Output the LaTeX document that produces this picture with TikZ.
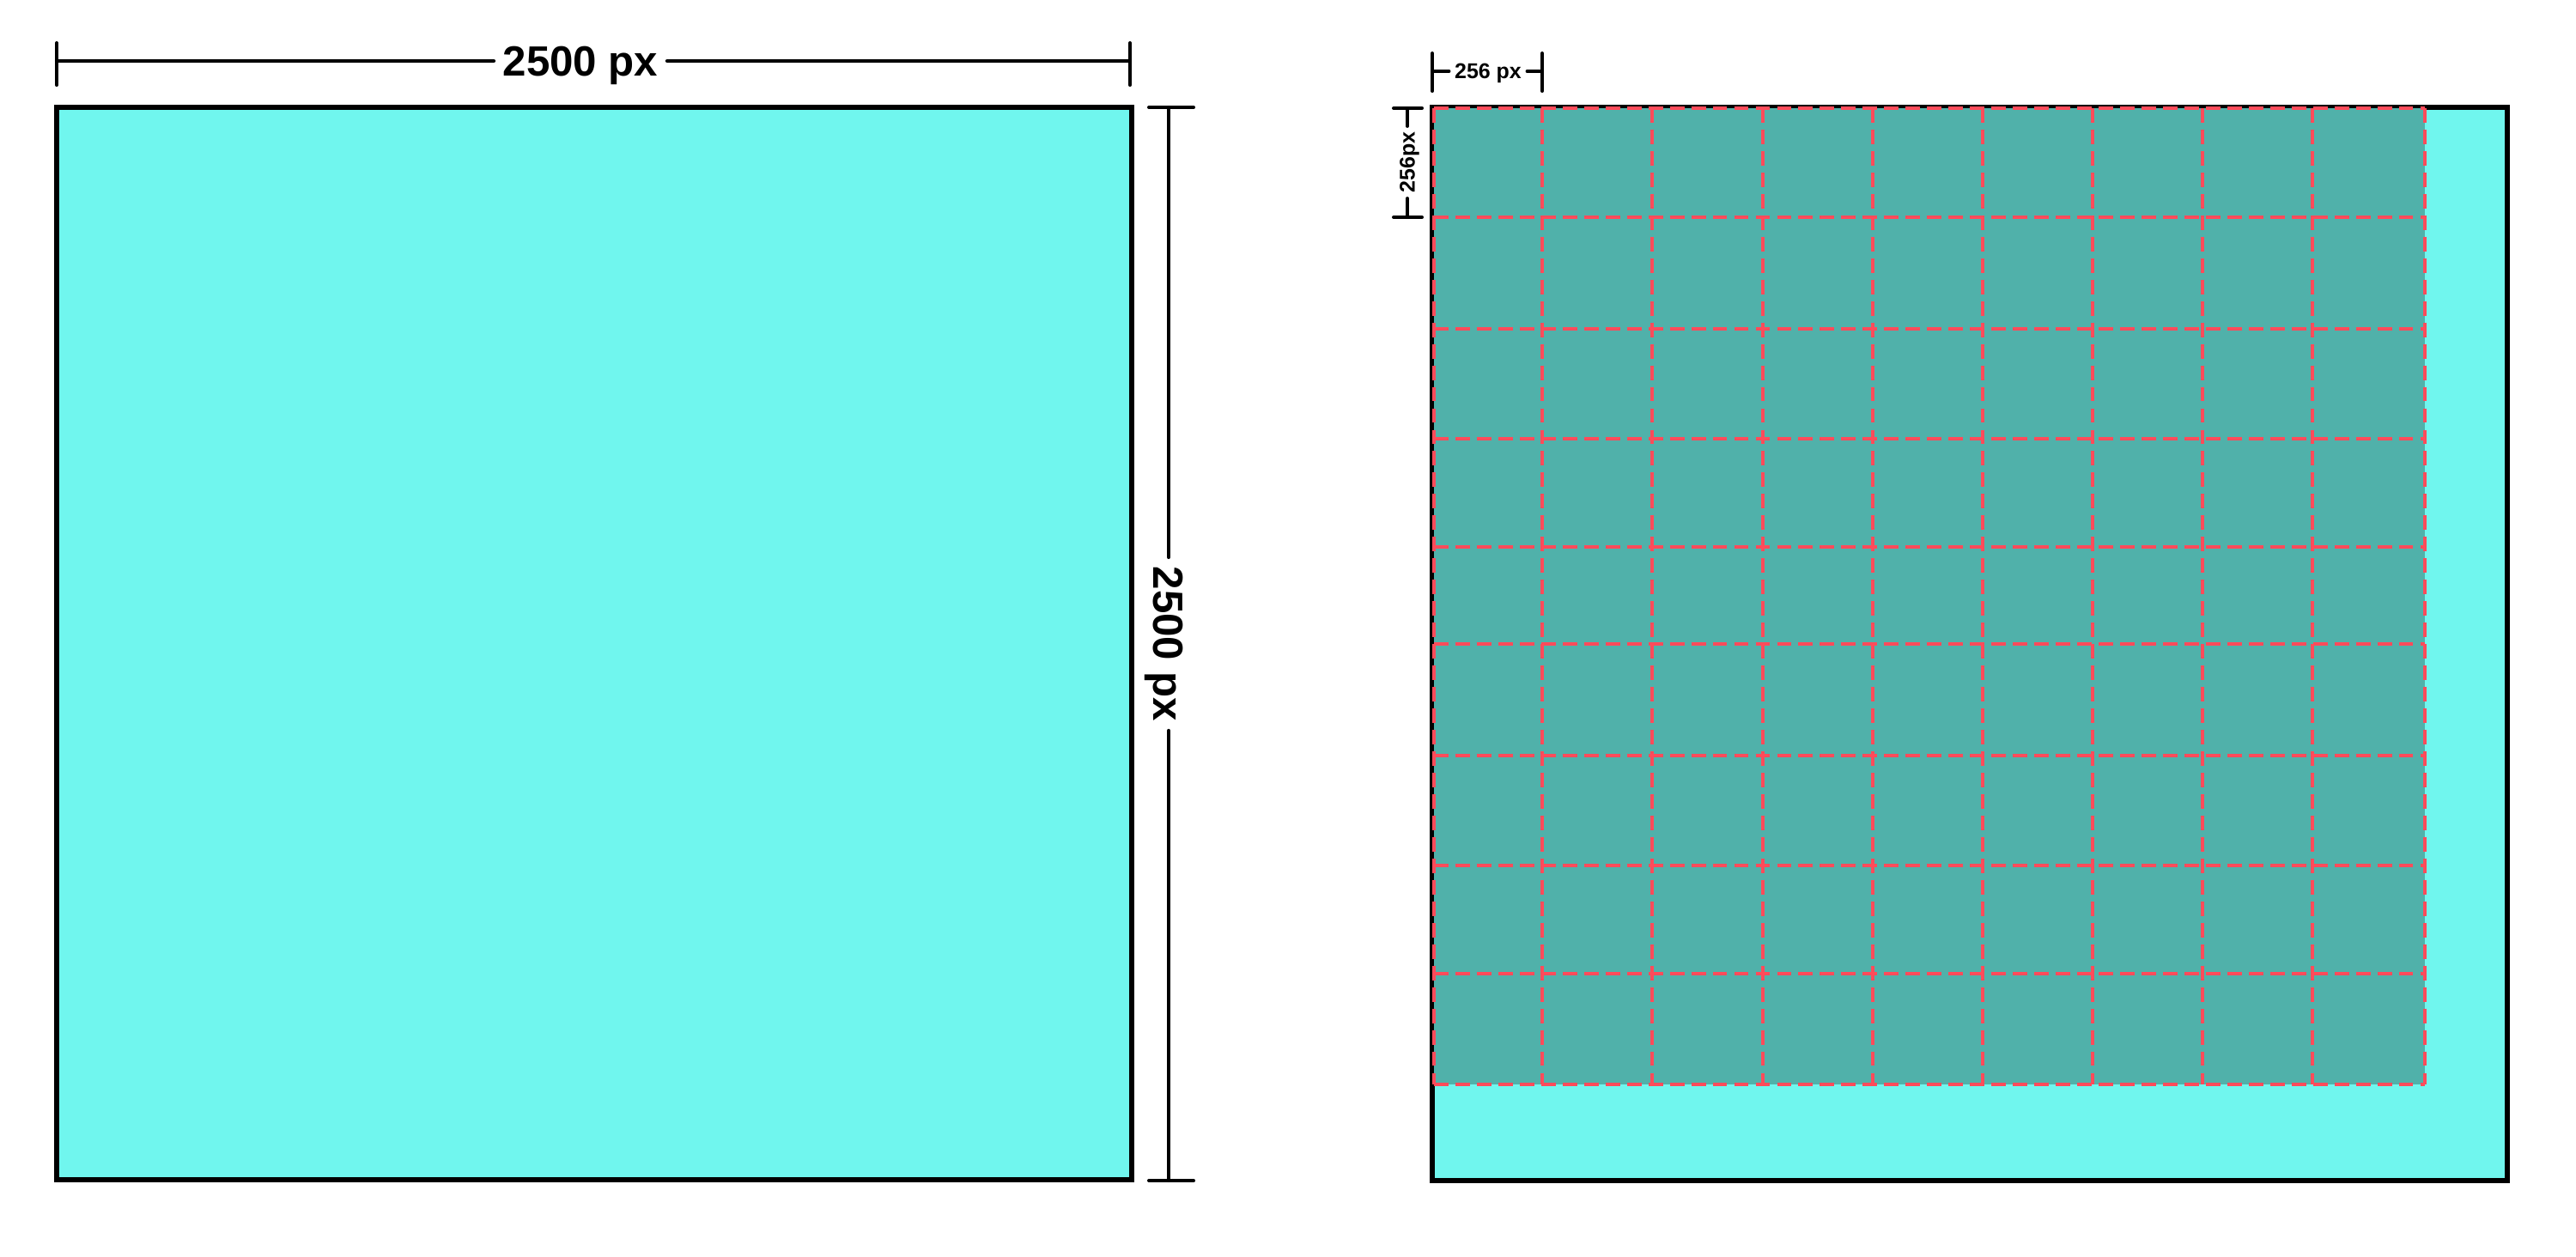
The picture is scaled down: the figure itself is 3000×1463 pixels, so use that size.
\documentclass[tikz,border=0pt]{standalone}
\usepackage{fontspec}
\setmainfont{Liberation Sans}
\usetikzlibrary{positioning}
\definecolor{TileCyan}{HTML}{70F6EE}
\definecolor{TileTeal}{HTML}{50B1AA}
\definecolor{TileRed}{HTML}{FF4B5A}

\begin{document}
\begin{tikzpicture}[x=0.01cm,y=-0.01cm,
  dimline/.style={line width=1.15pt,line cap=round},
  dimbig/.style={inner sep=2.8pt,text depth=0pt,font=\fontsize{14}{16}\selectfont\bfseries},
  dimsmall/.style={inner sep=1.7pt,text depth=0pt,font=\fontsize{7.1}{8}\selectfont\bfseries},
  gridline/.style={TileRed,line width=1.15pt,dash pattern=on 4.8pt off 2.3pt}]
\useasboundingbox (0,0) rectangle (3000,1463);
% whole image
\draw[fill=TileCyan,line width=1.7pt] (66,125) rectangle (1318,1374);
\coordinate (wl) at (66,71);
\coordinate (wr) at (1316,71);
\node[dimbig] (wlab) at (676,71) {2500 px};
\draw[dimline] (wl) -- (wlab) (wlab) -- (wr);
\draw[dimline] (wl) ++(0,-21) -- ++(0,49);
\draw[dimline] (wr) ++(0,-21) -- ++(0,49);
\coordinate (ht) at (1361,125);
\coordinate (hb) at (1361,1375);
\node[dimbig,rotate=-90] (hlab) at (1361,750) {2500 px};
\draw[dimline] (ht) -- (hlab) (hlab) -- (hb);
\draw[dimline] (ht) ++(-23,0) -- ++(52,0);
\draw[dimline] (hb) ++(-23,0) -- ++(52,0);
% tiled image
\draw[fill=TileCyan,line width=1.7pt] (1668,125) rectangle (2920,1375);
\fill[TileTeal] (1670,126) rectangle (2824,1263);
\foreach \x in {1670,1796,1924,2053,2181,2309,2437,2565,2693,2824}
  \draw[gridline] (\x,126) -- (\x,1263);
\foreach \y in {126,253,383,511,637,750,880,1008,1134,1263}
  \draw[gridline] (1670,\y) -- (2824,\y);
\coordinate (tl) at (1668,83);
\coordinate (tr) at (1796,83);
\node[dimsmall] (tlab) at (1733,83) {256 px};
\draw[dimline] (tl) -- (tlab) (tlab) -- (tr);
\draw[dimline] (tl) ++(0,-21) -- ++(0,44);
\draw[dimline] (tr) ++(0,-21) -- ++(0,44);
\coordinate (tt) at (1639,126);
\coordinate (tb) at (1639,253);
\node[dimsmall,rotate=90] (vlab) at (1639,189) {256px};
\draw[dimline] (tt) -- (vlab) (vlab) -- (tb);
\draw[dimline] (tt) ++(-16,0) -- ++(33,0);
\draw[dimline] (tb) ++(-16,0) -- ++(33,0);
\end{tikzpicture}
\end{document}
